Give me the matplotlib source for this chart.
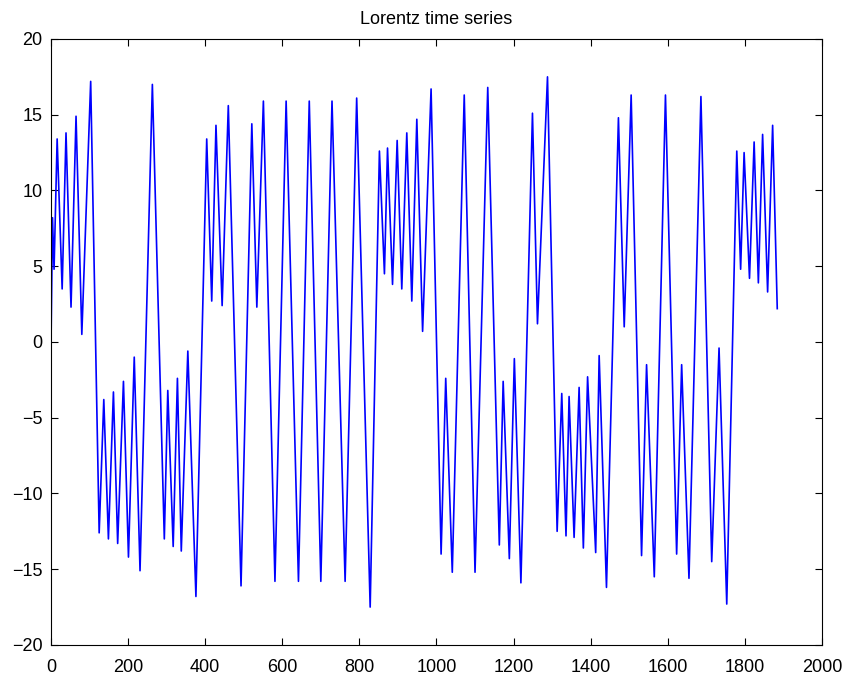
import matplotlib
matplotlib.use("Agg")
import matplotlib.pyplot as plt

plt.rcParams["font.family"] = ["Liberation Sans", "DejaVu Sans"]

# turning points of the series (sample index, value)
t_pts = [0, 4, 8, 16, 29, 39, 52, 65, 80, 103,
         125, 137, 149, 162, 173, 188, 201, 216, 231, 263,
         294, 303, 317, 328, 338, 355, 376, 404, 417, 428,
         444, 460, 493, 521, 534, 551, 581, 610, 642, 670,
         700, 729, 763, 793, 828, 852, 865, 873, 886, 898,
         910, 923, 936, 949, 964, 986, 1012, 1024, 1041, 1072,
         1100, 1133, 1163, 1173, 1189, 1202, 1219, 1249, 1262, 1288,
         1313, 1325, 1336, 1344, 1357, 1370, 1381, 1392, 1413, 1422,
         1441, 1472, 1487, 1505, 1532, 1545, 1565, 1594, 1623, 1636,
         1655, 1686, 1714, 1733, 1753, 1779, 1789, 1798, 1812, 1824,
         1835, 1846, 1859, 1872, 1884]
x_pts = [-0.3, 8.2, 4.8, 13.4, 3.5, 13.8, 2.3, 14.9, 0.5, 17.2,
         -12.6, -3.8, -13.0, -3.3, -13.3, -2.6, -14.2, -1.0, -15.1, 17.0,
         -13.0, -3.2, -13.5, -2.4, -13.8, -0.6, -16.8, 13.4, 2.7, 14.3,
         2.4, 15.6, -16.1, 14.4, 2.3, 15.9, -15.8, 15.9, -15.8, 15.9,
         -15.8, 15.9, -15.8, 16.1, -17.5, 12.6, 4.5, 12.8, 3.8, 13.3,
         3.5, 13.8, 2.7, 14.7, 0.7, 16.7, -14.0, -2.4, -15.2, 16.3,
         -15.2, 16.8, -13.4, -2.6, -14.3, -1.1, -15.9, 15.1, 1.2, 17.5,
         -12.5, -3.4, -12.8, -3.6, -12.9, -3.0, -13.6, -2.3, -13.9, -0.9,
         -16.2, 14.8, 1.0, 16.3, -14.1, -1.5, -15.5, 16.3, -14.0, -1.5,
         -15.6, 16.2, -14.5, -0.4, -17.3, 12.6, 4.8, 12.5, 4.2, 13.2,
         3.9, 13.7, 3.3, 14.3, 2.2]

fig = plt.figure(figsize=(8.44, 6.81), dpi=100)
ax = fig.add_axes([0.0604, 0.0529, 0.9135, 0.8899])

ax.plot(t_pts, x_pts, color="#0000ff", linewidth=1.2)

ax.set_xlim(0, 2000)
ax.set_ylim(-20, 20)
ax.set_xticks(range(0, 2001, 200))
ax.set_yticks(range(-20, 21, 5))
ax.tick_params(direction="in", top=True, right=True, length=5, width=0.8,
               labelsize=13)
ax.tick_params(axis="x", pad=10)
ax.tick_params(axis="y", pad=6)
for s in ax.spines.values():
    s.set_linewidth(0.8)

ax.set_title("Lorentz time series", fontsize=13, pad=11)

fig.savefig("out.png", dpi=100)
